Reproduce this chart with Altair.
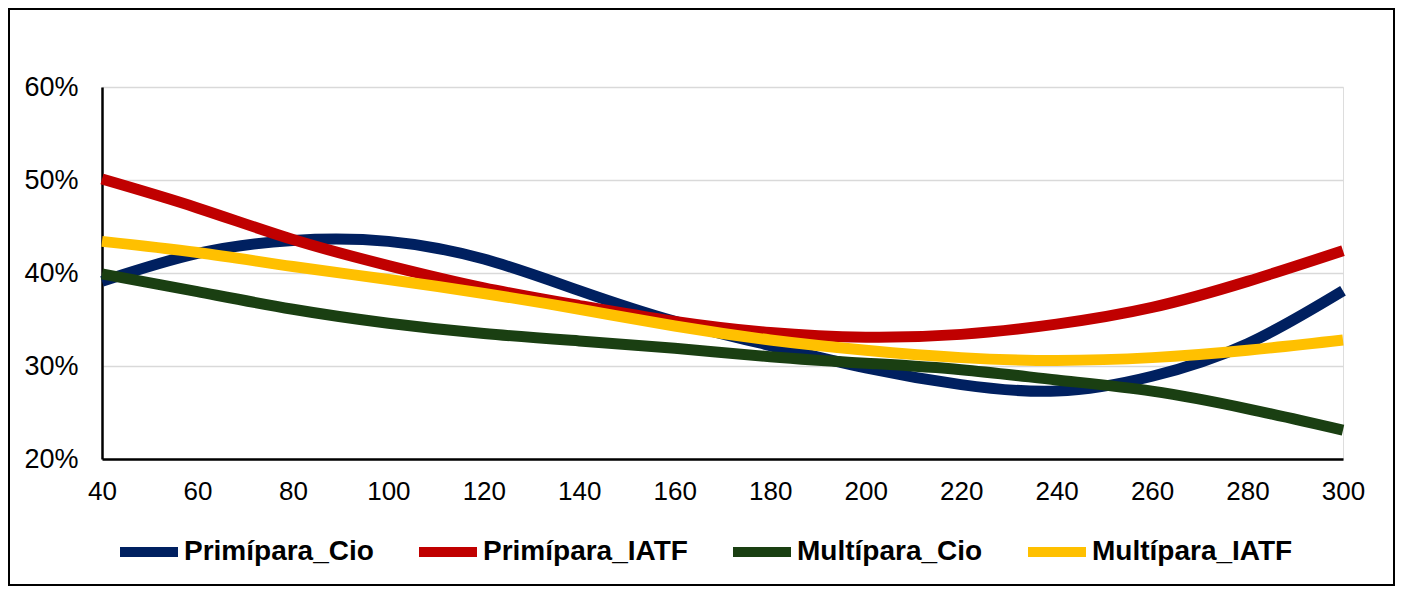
import altair as alt
import pandas as pd

days = [40, 60, 80, 100, 120, 140, 160, 180, 200, 220, 240, 260, 280, 300]
primipara_cio = [39.1, 42.1, 43.5, 43.4, 41.5, 38.1, 34.8, 32.2, 29.8, 28.0, 27.3, 28.9, 32.4, 38.1]
primipara_iatf = [50.1, 47.0, 43.6, 40.8, 38.4, 36.5, 34.8, 33.6, 33.1, 33.4, 34.5, 36.3, 39.1, 42.4]
multipara_cio = [39.9, 38.0, 36.1, 34.6, 33.5, 32.7, 31.9, 31.0, 30.3, 29.6, 28.5, 27.3, 25.4, 23.1]
multipara_iatf = [43.4, 42.2, 40.7, 39.3, 37.8, 36.1, 34.3, 32.8, 31.7, 30.9, 30.6, 30.9, 31.7, 32.8]

series_names = ["Primípara_Cio", "Primípara_IATF", "Multípara_Cio", "Multípara_IATF"]
series_colors = ["#002060", "#C00000", "#1A3F12", "#FFC000"]
x_ticks = list(range(40, 301, 20))
y_ticks = [0.2, 0.3, 0.4, 0.5, 0.6]

rows = []
for name, vals in zip(series_names, [primipara_cio, primipara_iatf, multipara_cio, multipara_iatf]):
    for d, v in zip(days, vals):
        rows.append({"dias": d, "taxa": v / 100.0, "serie": name})
df = pd.DataFrame(rows)

FONT = "Liberation Sans"
W, H = 1241, 372

lines = alt.Chart(df).mark_line(
    strokeWidth=11, interpolate="natural", strokeCap="butt"
).encode(
    x=alt.X("dias:Q", scale=alt.Scale(domain=[40, 300], nice=False, zero=False),
            axis=alt.Axis(values=x_ticks, title=None, grid=False, ticks=False,
                          labelFontSize=26, labelPadding=19, labelColor="black",
                          labelFlush=False, labelOverlap=False,
                          domainColor="black", domainWidth=2.5, labelFont=FONT)),
    y=alt.Y("taxa:Q", scale=alt.Scale(domain=[0.2, 0.6], nice=False, zero=False),
            axis=alt.Axis(values=y_ticks, format=".0%", title=None, ticks=False,
                          labelFontSize=27, labelPadding=24, labelColor="black",
                          labelOverlap=False,
                          domainColor="black", domainWidth=2.5,
                          gridColor="#d9d9d9", gridWidth=1.5, labelFont=FONT)),
    color=alt.Color("serie:N",
                    scale=alt.Scale(domain=series_names, range=series_colors),
                    sort=series_names,
                    legend=alt.Legend(
                        title=None, orient="none", direction="horizontal",
                        legendX=13, legendY=431,
                        symbolType="stroke", symbolSize=3364, symbolStrokeWidth=10,
                        labelFontSize=28, labelFontWeight="bold", labelFont=FONT,
                        labelColor="black", labelOffset=1, columnPadding=25,
                        padding=0, symbolOffset=0, labelLimit=400)),
    order=alt.Order("serie_order:Q"),
).transform_calculate(
    serie_order="indexof(['Primípara_Cio','Primípara_IATF','Multípara_Cio','Multípara_IATF'], datum.serie)"
)

frame = alt.Chart(pd.DataFrame({"a": [0]})).mark_rect(
    fillOpacity=0, stroke="black", strokeWidth=2
).encode(
    x=alt.value(-93), x2=alt.value(W + 51),
    y=alt.value(-78), y2=alt.value(H + 126),
)

chart = alt.layer(lines, frame).properties(
    width=W, height=H,
    autosize=alt.AutoSizeParams(type="none"),
    padding={"left": 94, "top": 79, "right": 52, "bottom": 127},
).configure_view(stroke=None).configure(font=FONT)

chart.save("out.html", embed_options={"renderer": "svg", "actions": False})
